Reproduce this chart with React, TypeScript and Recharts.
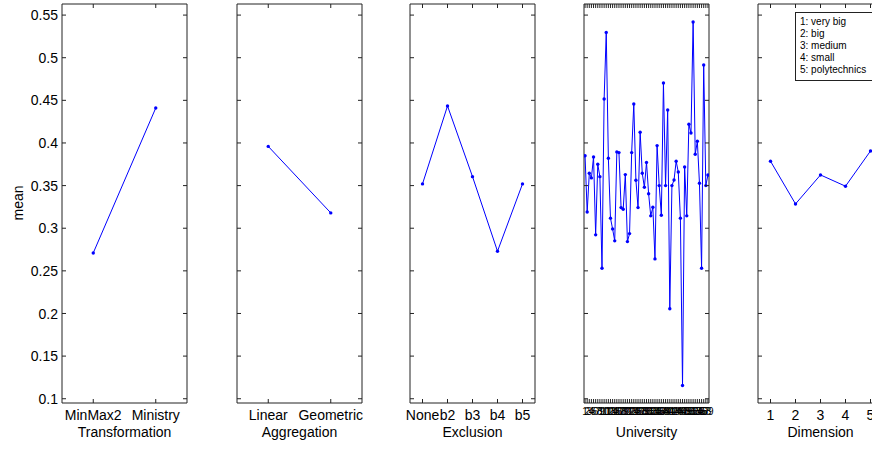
import React from 'react';
import { LineChart, Line, XAxis, YAxis, ReferenceArea, Legend } from 'recharts';

const meanTicks = [0.1, 0.15, 0.2, 0.25, 0.3, 0.35, 0.4, 0.45, 0.5, 0.55];
const meanDomain = [0.095, 0.563];

const transformationLabels = ['MinMax2', 'Ministry'];
const transformationMeans = [0.271, 0.441];

const aggregationLabels = ['Linear', 'Geometric'];
const aggregationMeans = [0.396, 0.318];

const exclusionLabels = ['None', 'b2', 'b3', 'b4', 'b5'];
const exclusionMeans = [0.352, 0.4434, 0.3605, 0.273, 0.352];

const universityMeans = [
  0.385, 0.319, 0.3645, 0.359, 0.3836, 0.2922, 0.375, 0.3605, 0.2531, 0.4516,
  0.5297, 0.382, 0.3118, 0.2992, 0.2852, 0.3895, 0.3887, 0.3242, 0.3223, 0.3629,
  0.2843, 0.2937, 0.3887, 0.4457, 0.3563, 0.3242, 0.4125, 0.3645, 0.348, 0.3772,
  0.3405, 0.3145, 0.3246, 0.264, 0.3969, 0.35, 0.3153, 0.4703, 0.35, 0.4387,
  0.2055, 0.35, 0.3566, 0.3786, 0.366, 0.3118, 0.1156, 0.3719, 0.3145, 0.4219,
  0.4117, 0.5418, 0.3867, 0.402, 0.3527, 0.2531, 0.4914, 0.35, 0.3625,
];
const universityLabels = universityMeans.map((_, i) => String(i + 1));

const dimensionLabels = ['1', '2', '3', '4', '5'];
const dimensionMeans = [0.3786, 0.3285, 0.3625, 0.3493, 0.3906];
const dimensionLegend = ['1: very big', '2: big', '3: medium', '4: small', '5: polytechnics'];

const FONT = '"Liberation Sans", Arial, Helvetica, sans-serif';
const AXIS_W = 60;
const BOX_W = 125;
const PLOT_TOP = 4;
const PLOT_BOTTOM = 403;
const INK = '#222';
const BLUE = '#0000ff';
const TICK = 4;

const PL = AXIS_W;
const PR = AXIS_W + BOX_W;

const YTick = (props: any) => {
  const { y, payload, showLabel } = props;
  return (
    <g>
      <line x1={PL} x2={PL + TICK} y1={y} y2={y} stroke={INK} strokeWidth={1} />
      <line x1={PR - TICK} x2={PR} y1={y} y2={y} stroke={INK} strokeWidth={1} />
      {showLabel ? (
        <text x={PL - 4} y={y} dy="0.36em" textAnchor="end" fontSize={14} fontFamily={FONT} fill="#000">
          {String(payload.value)}
        </text>
      ) : null}
    </g>
  );
};

const XTick = (props: any) => {
  const { x, payload, labels, fontSize, baseline } = props;
  const label = labels[Math.round(payload.value) - 1];
  return (
    <g>
      <line x1={x} x2={x} y1={PLOT_BOTTOM - TICK} y2={PLOT_BOTTOM} stroke={INK} strokeWidth={1} />
      <line x1={x} x2={x} y1={PLOT_TOP} y2={PLOT_TOP + TICK} stroke={INK} strokeWidth={1} />
      <text x={x} y={baseline} textAnchor="middle" fontSize={fontSize} fontFamily={FONT} fill="#000">
        {label}
      </text>
    </g>
  );
};

const XTitle = (props: any) => {
  const { value } = props;
  return (
    <text x={PL + BOX_W / 2} y={437} textAnchor="middle" fontSize={14} fontFamily={FONT} fill="#000">
      {value}
    </text>
  );
};

const YTitle = (props: any) => {
  const { value } = props;
  const cx = 18 - (62 - AXIS_W);
  const cy = 203;
  return (
    <text x={cx} y={cy} transform={`rotate(-90 ${cx} ${cy})`} textAnchor="middle" dy="0.36em" fontSize={14} fontFamily={FONT} fill="#000">
      {value}
    </text>
  );
};

const LegendBox = () => (
  <div
    style={{
      border: `1px solid ${INK}`,
      background: '#fff',
      padding: '3px 4px',
      fontFamily: FONT,
      fontSize: 10,
      lineHeight: '12px',
      color: '#000',
      whiteSpace: 'nowrap',
      boxSizing: 'border-box',
      width: 84,
      height: 69,
    }}
  >
    {dimensionLegend.map((t) => (
      <div key={t}>{t}</div>
    ))}
  </div>
);

type PanelProps = {
  left: number;
  labels: string[];
  values: number[];
  title: string;
  showYLabels?: boolean;
  tickFont?: number;
  tickBaseline?: number;
  legend?: boolean;
};

const Panel = ({ left, labels, values, title, showYLabels, tickFont = 14, tickBaseline = 420, legend }: PanelProps) => {
  const data = values.map((v, i) => ({ x: i + 1, mean: v }));
  const ticks = labels.map((_, i) => i + 1);
  const xDomain = [0.5, labels.length + 0.5];
  return (
    <div style={{ position: 'absolute', left: left - AXIS_W, top: 0 }}>
      <LineChart
        width={AXIS_W + BOX_W + 5}
        height={449}
        data={data}
        margin={{ top: PLOT_TOP, right: 5, bottom: 449 - PLOT_BOTTOM - 45, left: 0 }}
      >
        <XAxis
          type="number"
          dataKey="x"
          domain={xDomain}
          ticks={ticks}
          interval={0}
          axisLine={false}
          tickLine={false}
          height={45}
          allowDataOverflow
          tick={<XTick labels={labels} fontSize={tickFont} baseline={tickBaseline} />}
          label={<XTitle value={title} />}
        />
        <YAxis
          type="number"
          domain={meanDomain}
          ticks={meanTicks}
          interval={0}
          width={AXIS_W}
          axisLine={false}
          tickLine={false}
          allowDataOverflow
          tick={<YTick showLabel={!!showYLabels} />}
          label={showYLabels ? <YTitle value="mean" /> : undefined}
        />
        <ReferenceArea
          x1={xDomain[0]}
          x2={xDomain[1]}
          y1={meanDomain[0]}
          y2={meanDomain[1]}
          ifOverflow="visible"
          fill="#fff"
          fillOpacity={0}
          stroke={INK}
          strokeWidth={1}
          strokeOpacity={1}
        />
        <Line
          type="linear"
          dataKey="mean"
          stroke={BLUE}
          strokeWidth={1}
          dot={{ r: 1.7, fill: BLUE, stroke: 'none' }}
          isAnimationActive={false}
        />
        {legend ? (
          <Legend
            layout="vertical"
            align="center"
            verticalAlign="middle"
            content={() => <LegendBox />}
            wrapperStyle={{ position: 'absolute', left: 795 - (left - AXIS_W), top: 12, width: 84, height: 69 }}
          />
        ) : null}
      </LineChart>
    </div>
  );
};

export default function App() {
  return (
    <div
      style={{
        position: 'absolute',
        left: 0,
        top: 0,
        width: 872,
        height: 449,
        overflow: 'hidden',
        background: '#fff',
      }}
    >
      <Panel left={62} labels={transformationLabels} values={transformationMeans} title="Transformation" showYLabels />
      <Panel left={237} labels={aggregationLabels} values={aggregationMeans} title="Aggregation" />
      <Panel left={410} labels={exclusionLabels} values={exclusionMeans} title="Exclusion" />
      <Panel left={584} labels={universityLabels} values={universityMeans} title="University" tickFont={10} tickBaseline={415} />
      <Panel left={758} labels={dimensionLabels} values={dimensionMeans} title="Dimension" legend />
    </div>
  );
}
